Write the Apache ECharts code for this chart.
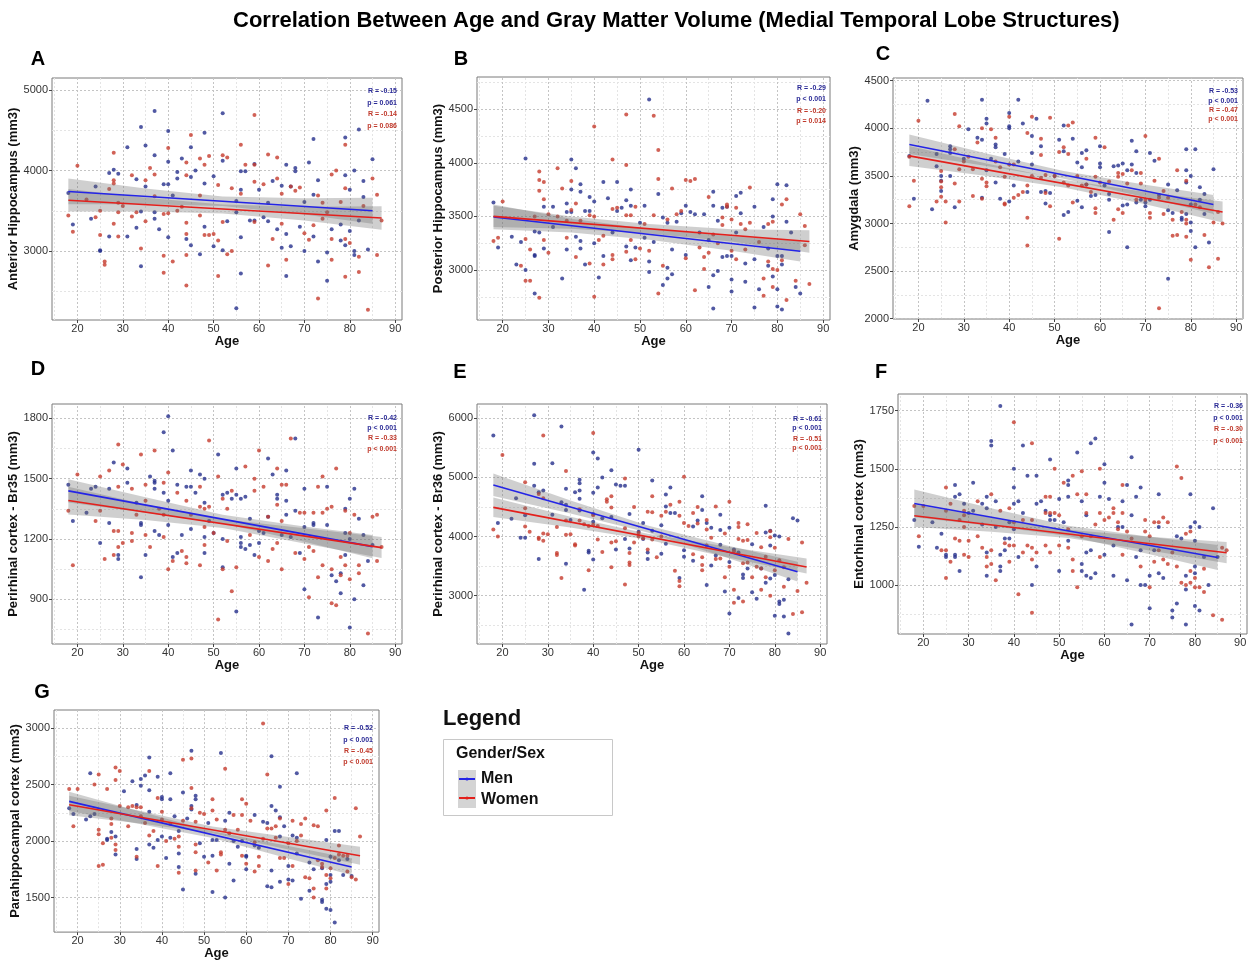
<!DOCTYPE html>
<html><head><meta charset="utf-8">
<script src="https://cdn.jsdelivr.net/npm/echarts@6/dist/echarts.min.js"></script>
<style>html,body{margin:0;padding:0;background:#fff}#c{width:1251px;height:961px}</style>
</head><body><div id="c"></div>
<script>
const ageTicks=[20,30,40,50,60,70,80,90];
const ageMinor=[15,25,35,45,55,65,75,85];
const FONT='Liberation Sans, Arial, sans-serif';

// ---------- A: Anterior Hippocampus ----------
const menA=[[18,3720],[19,3330],[23,3400],[24,3800],[25,3010],[25,3000],[27,3180],[27,3970],[28,4010],[29,3960],[31,4290],[31,3180],[33,3890],[33,3290],[34,4540],[34,3490],[34,2810],[35,4310],[35,3800],[37,4740],[37,4190],[37,3480],[37,3400],[38,3270],[39,3830],[40,4490],[40,4110],[40,3830],[40,3170],[41,3690],[42,3980],[42,3900],[43,4150],[44,3150],[45,4290],[45,3920],[45,3070],[46,4000],[47,2960],[48,4470],[48,3840],[48,3300],[50,3930],[50,3060],[52,4710],[52,4120],[52,3010],[53,3370],[55,3620],[55,3480],[55,2290],[56,3990],[56,3760],[56,3170],[56,2720],[57,3990],[58,3380],[59,4080],[59,3380],[60,3760],[61,3420],[62,3600],[62,3370],[63,3870],[64,3270],[65,3810],[65,3040],[66,4070],[66,3210],[66,2690],[67,3800],[67,3060],[68,4030],[68,3990],[69,3300],[70,3610],[70,3000],[71,4100],[72,4390],[72,3700],[72,3180],[73,3880],[73,2870],[75,2980],[75,2630],[76,3270],[78,3330],[78,3130],[79,4410],[79,3940],[79,3070],[80,3760],[80,3250],[81,3000],[81,2950],[81,4000],[82,4510],[82,3380],[83,3870],[83,3670],[84,3020],[85,4140]];
const womenA=[[18,3440],[19,3240],[20,4060],[22,3640],[24,3420],[25,3200],[25,3500],[26,2870],[26,2830],[27,3770],[28,4220],[28,3880],[28,3840],[28,3340],[29,3600],[29,3480],[29,3180],[30,3560],[32,3940],[32,3430],[33,3480],[34,3030],[35,3880],[35,3370],[36,4030],[37,3950],[37,3680],[39,3460],[39,2940],[39,2730],[40,4280],[40,3470],[41,2870],[42,3500],[43,3550],[44,4100],[44,3940],[44,3350],[44,3210],[44,2950],[44,2570],[45,4440],[47,4150],[47,3690],[47,3440],[48,4070],[48,3200],[49,4180],[49,3200],[50,3210],[51,3820],[51,3130],[51,2690],[52,4190],[52,3360],[53,4160],[53,2960],[54,3780],[54,3000],[56,4320],[56,3710],[57,4070],[59,4690],[59,4070],[59,3860],[59,3360],[61,3830],[62,4200],[62,2820],[63,3150],[64,4160],[64,3900],[65,3710],[65,3340],[66,2890],[67,3800],[68,3750],[69,3790],[70,3220],[71,3140],[72,3320],[73,3690],[73,2410],[74,3600],[74,3400],[75,3480],[76,3950],[76,3150],[76,2890],[77,4000],[78,3610],[79,4320],[79,3780],[79,3150],[79,2680],[80,3100],[82,2930],[82,2740],[83,3560],[84,2270],[85,3900],[86,3700],[86,2950],[87,3380]];
const fitMenA=[[18,3740],[85,3500]];
const fitWomenA=[[18,3630],[87,3410]];
const bandMenA=[[18,3580,3900],[35,3582,3776],[52,3558,3678],[70,3454,3654],[85,3340,3660]];
const bandWomenA=[[18,3490,3770],[35,3491,3661],[52,3467,3577],[70,3379,3549],[87,3265,3555]];
const yTicksA=[3000,4000,5000];
const yMinorA=[2500,3500,4500];
const statsA=['R = -0.15','p = 0.061','R = -0.14','p = 0.086'];

// ---------- B: Posterior Hippocampus ----------
const menB=[[18,3630],[19,3210],[22,3310],[23,3050],[24,3260],[25,4040],[25,3000],[27,3360],[27,3140],[27,3130],[27,2780],[28,3350],[29,3590],[29,3200],[31,3590],[31,3400],[33,2920],[34,3620],[34,3540],[34,3190],[35,4030],[35,3750],[35,3540],[36,3950],[36,3310],[37,3800],[37,3730],[37,3270],[37,3200],[38,3550],[38,3050],[39,3680],[39,3550],[40,3640],[40,3250],[41,2930],[42,3820],[42,3130],[43,3670],[44,3350],[45,3820],[45,3550],[46,3580],[47,3650],[47,3220],[48,3750],[48,3600],[48,3090],[49,3210],[50,3440],[51,3600],[51,3300],[52,4590],[52,3080],[52,2980],[53,3260],[54,3710],[55,3490],[55,2860],[56,3440],[56,3020],[56,2920],[57,3190],[57,2960],[58,3450],[59,3530],[60,3600],[60,3140],[61,3540],[62,3520],[63,3350],[64,3520],[65,3280],[65,2840],[66,3730],[66,3600],[66,2950],[66,2640],[67,3460],[67,2990],[68,3580],[68,3120],[69,3590],[69,3130],[70,3130],[70,2910],[70,2800],[71,3690],[71,3350],[72,3720],[72,3530],[73,3060],[73,2890],[75,3590],[75,3100],[75,2650],[76,2820],[77,3400],[78,3200],[78,3040],[79,3660],[79,3500],[79,2940],[80,3800],[80,3130],[80,2820],[80,2660],[81,3130],[81,3050],[81,2630],[82,3790],[82,3450],[83,3350],[84,2840],[85,2780]];
const womenB=[[18,3270],[19,3300],[20,3640],[24,3040],[25,3290],[25,2900],[26,3190],[26,2900],[27,3500],[28,3920],[28,3840],[28,3740],[28,2740],[29,3820],[29,3660],[29,3280],[30,3520],[30,3160],[32,3950],[32,3500],[33,3760],[34,3300],[34,3460],[35,3830],[35,3560],[36,3620],[36,3120],[37,3460],[39,3510],[39,3060],[40,4340],[40,3500],[40,2750],[41,3280],[42,3320],[42,3050],[44,4030],[44,3570],[44,3140],[44,3100],[45,3580],[47,4450],[47,3980],[47,3510],[47,3170],[48,3510],[48,3280],[49,3590],[49,3100],[50,3200],[51,3430],[52,3180],[53,4440],[53,3510],[54,4120],[54,3850],[54,2780],[55,3040],[56,3470],[57,3760],[58,3520],[59,3550],[60,3840],[60,3110],[61,3830],[62,3850],[62,2810],[63,3210],[64,3120],[64,3010],[65,3680],[65,3160],[66,3330],[67,3250],[68,3490],[68,3420],[69,3610],[69,3590],[70,3470],[70,3180],[71,3580],[71,3100],[72,3430],[73,3380],[73,3190],[74,3770],[74,3440],[76,3260],[77,2920],[77,2760],[78,3430],[78,3080],[79,3450],[79,3010],[79,2840],[80,3000],[81,3610],[81,3090],[82,3660],[82,2720],[84,2900],[85,3520],[86,3410],[86,3230],[87,2870]];
const fitMenB=[[18,3495],[85,3175]];
const fitWomenB=[[18,3500],[87,3265]];
const bandMenB=[[18,3380,3610],[35,3350,3478],[52,3283,3383],[70,3180,3314],[85,3080,3270]];
const bandWomenB=[[18,3400,3600],[35,3385,3500],[52,3340,3430],[70,3265,3380],[87,3160,3370]];
const yTicksB=[3000,3500,4000,4500];
const yMinorB=[2750,3250,3750,4250,4750];
const statsB=['R = -0.29','p < 0.001','R = -0.20','p = 0.014'];

// ---------- C: Amygdala ----------
const menC=[[18,3710],[19,3260],[22,4290],[23,3150],[24,3730],[24,3600],[25,3500],[25,3450],[25,3340],[27,3810],[27,3780],[27,3740],[27,3500],[28,3170],[30,3680],[31,3990],[33,3900],[34,4300],[34,3880],[34,3270],[35,4100],[35,4050],[35,3560],[36,3680],[37,3830],[37,3800],[37,3430],[38,3260],[39,3730],[40,4160],[40,4020],[40,4000],[40,3230],[41,3400],[42,4300],[42,3650],[43,4050],[44,3330],[45,3920],[45,3740],[45,3620],[46,4100],[47,3810],[47,3330],[48,3210],[48,3340],[49,3320],[50,3500],[51,3880],[52,4030],[52,3760],[52,3090],[53,3120],[54,3890],[55,3640],[55,3240],[56,3740],[56,3590],[56,3170],[57,3770],[57,3410],[58,3290],[59,3300],[60,3810],[60,3630],[60,3590],[61,3400],[62,3310],[62,3250],[62,2910],[63,3600],[64,3610],[65,3630],[65,3190],[66,3560],[66,3200],[66,2750],[67,3870],[67,3620],[68,3760],[68,3530],[68,3220],[69,3250],[70,3220],[70,3180],[71,3740],[71,3250],[72,3660],[73,3300],[75,3410],[75,3140],[75,2420],[76,3110],[77,3350],[78,3060],[78,3040],[79,3780],[79,3560],[79,3430],[79,3100],[80,3500],[80,3010],[80,2920],[80,3200],[81,3780],[81,2750],[82,3380],[82,3250],[83,3310],[83,3100],[84,2800],[85,3570]];
const womenC=[[18,3700],[18,3180],[19,3450],[20,4080],[24,3230],[25,3550],[25,3440],[25,3380],[25,3280],[26,3010],[26,3230],[28,4150],[28,3780],[28,3420],[29,4020],[29,3570],[29,3230],[30,3650],[31,3700],[32,3570],[32,3290],[33,3850],[34,4000],[34,3470],[34,3260],[35,3390],[35,3430],[36,3990],[37,3900],[37,3650],[38,3590],[39,3490],[39,3210],[39,3200],[40,4120],[40,3620],[41,3270],[41,3620],[42,3300],[43,3330],[44,3950],[44,3400],[44,3060],[44,2770],[45,4120],[45,3500],[47,3890],[47,3720],[47,3480],[48,3510],[48,3320],[49,4110],[49,3180],[50,3500],[51,3750],[51,2840],[52,3800],[52,3430],[53,4030],[53,3730],[53,3400],[54,4060],[54,3220],[55,3500],[56,3400],[57,3680],[57,3410],[58,3330],[59,3900],[59,3490],[59,3160],[59,3110],[60,3430],[61,3800],[62,3440],[63,3040],[64,3530],[64,3490],[64,3150],[65,3520],[65,3110],[66,3420],[67,3560],[68,3250],[69,3530],[69,3420],[70,3920],[70,3250],[71,3110],[71,3060],[72,3450],[73,3680],[73,3270],[73,2110],[74,3340],[74,3100],[75,3270],[76,3040],[76,2870],[77,3560],[77,2880],[78,3120],[79,3450],[79,3040],[79,3000],[79,2860],[80,2620],[81,3200],[82,3170],[83,2880],[84,2540],[85,3010],[86,3120],[86,2630],[87,3000]];
const fitMenC=[[18,3830],[85,3200]];
const fitWomenC=[[18,3710],[87,3120]];
const bandMenC=[[18,3730,3935],[35,3605,3735],[52,3470,3550],[70,3276,3406],[85,3100,3300]];
const bandWomenC=[[18,3605,3815],[35,3500,3630],[52,3379,3459],[70,3201,3331],[87,3010,3230]];
const yTicksC=[2000,2500,3000,3500,4000,4500];
const yMinorC=[2250,2750,3250,3750,4250];
const statsC=['R = -0.53','p < 0.001','R = -0.47','p < 0.001'];

// ---------- D: Perirhinal cortex Br35 ----------
const menD=[[18,1470],[19,1290],[22,1330],[23,1450],[24,1460],[25,1180],[27,1450],[27,1280],[28,1580],[29,1120],[29,1100],[31,1550],[31,1480],[33,1380],[34,1280],[34,1270],[34,1010],[35,1120],[36,1510],[37,1490],[37,1480],[37,1450],[37,1240],[38,1220],[39,1730],[39,1430],[40,1810],[40,1390],[40,1270],[41,1640],[41,1110],[42,1470],[42,1130],[43,1220],[44,1460],[45,1540],[45,1460],[45,1250],[46,1430],[47,1520],[48,1500],[48,1380],[48,1210],[48,1130],[49,1290],[50,1230],[51,1620],[52,1420],[52,1200],[52,1060],[53,1430],[54,1400],[55,1550],[55,1420],[55,840],[56,1400],[56,1210],[56,1180],[56,1160],[57,1410],[57,1150],[58,1300],[58,1170],[59,1120],[60,1240],[60,1180],[61,1230],[62,1600],[62,1310],[63,1520],[64,1420],[64,1400],[65,1220],[66,1540],[66,1390],[66,1320],[67,1210],[68,1700],[68,1340],[69,1130],[70,1450],[70,1260],[70,950],[72,1280],[72,1270],[73,810],[75,1460],[75,1270],[76,1020],[77,990],[78,1030],[78,930],[79,1350],[79,1230],[79,1120],[80,1400],[80,1200],[80,760],[81,1450],[81,900],[82,1300],[83,1220],[83,970],[84,1090],[85,1170]];
const womenD=[[18,1340],[19,1070],[20,1520],[24,1290],[25,1510],[25,1340],[26,1100],[27,1540],[28,1240],[28,1120],[29,1670],[29,1460],[29,1240],[29,1160],[30,1570],[30,1180],[32,1450],[32,1230],[32,1190],[33,1320],[34,1620],[35,1470],[35,1390],[35,1220],[36,1160],[37,1640],[38,1350],[39,1480],[39,1320],[39,1210],[40,1530],[40,1050],[41,1090],[42,1430],[43,1140],[44,1390],[44,1110],[44,1080],[45,1320],[47,1460],[47,1360],[47,1070],[48,1350],[48,1170],[48,1260],[49,1690],[49,1360],[50,1230],[51,1510],[51,800],[52,1400],[52,1050],[53,1350],[53,1190],[54,1440],[54,940],[55,1060],[57,1560],[58,1220],[59,1500],[59,1440],[60,1640],[60,1110],[61,1460],[62,1310],[62,1090],[63,1150],[64,1550],[64,1370],[64,1180],[65,1470],[65,1290],[65,1050],[66,1470],[67,1700],[68,1130],[69,1330],[70,1330],[70,1100],[71,1160],[71,910],[72,1330],[72,1140],[73,1460],[73,1010],[74,1510],[74,1330],[74,1070],[75,1350],[76,1360],[76,1050],[76,880],[77,1550],[77,870],[78,1110],[78,1020],[79,1340],[79,1070],[80,1230],[80,1000],[81,1320],[82,1070],[82,1030],[84,730],[85,1310],[86,1320],[86,1090],[87,1160]];
const fitMenD=[[18,1439],[85,1162]];
const fitWomenD=[[18,1391],[87,1157]];
const bandMenD=[[18,1381,1497],[35,1331,1407],[52,1277,1321],[70,1186,1262],[85,1104,1220]];
const bandWomenD=[[18,1322,1460],[35,1295,1371],[52,1254,1298],[70,1177,1253],[87,1105,1210]];
const yTicksD=[900,1200,1500,1800];
const yMinorD=[750,1050,1350,1650];
const statsD=['R = -0.42','p < 0.001','R = -0.33','p < 0.001'];

// ---------- E: Perirhinal cortex Br36 ----------
const menE=[[18,5710],[19,4230],[22,4300],[23,4650],[24,3980],[25,3980],[25,4360],[27,6050],[27,5230],[27,4860],[28,4750],[28,3620],[29,4780],[31,5240],[31,4370],[33,5860],[33,4580],[34,4810],[34,4540],[34,4450],[34,3540],[35,4280],[36,4750],[37,4960],[37,4900],[37,4780],[37,4640],[37,4440],[38,3100],[39,3760],[39,3730],[40,5420],[40,4740],[40,4380],[40,4250],[40,3610],[41,5320],[41,4830],[42,5000],[42,4310],[44,5120],[44,4330],[45,4880],[45,3780],[46,4860],[47,4860],[47,3960],[48,4380],[48,3800],[50,5470],[50,4080],[51,4230],[51,3960],[52,3730],[52,3620],[53,4950],[53,4100],[55,4190],[55,3710],[56,4710],[56,4510],[56,3880],[57,4830],[57,4400],[58,4400],[59,3300],[60,3770],[60,3660],[62,4170],[62,3590],[63,4270],[64,4680],[64,4450],[65,4230],[65,3180],[66,4150],[66,3510],[67,3680],[68,4370],[68,4110],[68,3860],[69,3070],[70,4150],[70,3570],[70,2700],[71,3780],[72,3730],[72,2960],[73,3360],[73,3300],[74,3460],[75,3870],[75,3060],[76,2950],[77,3460],[78,4520],[78,4070],[78,3220],[79,3850],[79,3290],[79,4100],[80,4020],[80,3350],[80,2660],[81,4000],[81,2900],[81,2860],[82,2930],[82,2650],[83,3280],[83,2360],[84,4310],[85,4270]];
const womenE=[[18,4120],[19,4000],[20,5380],[25,4920],[25,4480],[25,4170],[26,4080],[28,4720],[28,3980],[28,3960],[29,5710],[29,4650],[29,4050],[29,3930],[30,4040],[32,4160],[32,3720],[32,3690],[33,3300],[34,5110],[34,4270],[34,4030],[35,4040],[36,3870],[36,3850],[37,4460],[37,4270],[38,4210],[39,4180],[39,3430],[40,5750],[40,4360],[40,4200],[41,4180],[41,3950],[42,3740],[43,4630],[43,4590],[44,4680],[44,4490],[44,3900],[44,3480],[45,3920],[47,4980],[47,4140],[47,3190],[48,3720],[48,3560],[48,3520],[49,4500],[49,3900],[50,4060],[50,4000],[51,3970],[52,4420],[52,3780],[53,4680],[53,4410],[53,3950],[54,3650],[55,4350],[55,4000],[56,4420],[57,4540],[58,3420],[59,4590],[59,4350],[59,3250],[59,3160],[60,5010],[60,4230],[61,4180],[62,4400],[62,3700],[63,4500],[63,4220],[64,3650],[64,3520],[64,3430],[65,4280],[65,4120],[65,3850],[66,3980],[67,4510],[67,3620],[68,3630],[69,4050],[69,3310],[70,4590],[70,3490],[71,3750],[71,3100],[71,2880],[72,4230],[72,4160],[72,3960],[73,3930],[73,3550],[73,2900],[74,4210],[74,3940],[74,3560],[75,3310],[76,4060],[76,3490],[77,3820],[77,3460],[77,3100],[78,3660],[78,3310],[79,4090],[79,3990],[79,3000],[80,3810],[80,3430],[81,3600],[82,3480],[82,3150],[83,3960],[84,2690],[85,3080],[86,3900],[86,2720],[87,3220]];
const fitMenE=[[18,4872],[85,3406]];
const fitWomenE=[[18,4494],[87,3485]];
const bandMenE=[[18,4685,5065],[35,4390,4610],[52,4068,4188],[70,3629,3839],[85,3240,3575]];
const bandWomenE=[[18,4330,4660],[35,4155,4335],[52,3946,4046],[70,3643,3823],[87,3375,3630]];
const yTicksE=[3000,4000,5000,6000];
const yMinorE=[2500,3500,4500,5500];
const statsE=['R = -0.61','p < 0.001','R = -0.51','p < 0.001'];

// ---------- F: Entorhinal cortex ----------
const menF=[[18,1280],[19,1165],[22,1270],[23,1160],[24,1220],[25,1130],[25,1120],[27,1430],[27,1380],[27,1130],[27,1120],[28,1390],[28,1060],[29,1350],[30,1310],[31,1440],[31,1320],[33,1350],[33,1260],[34,1380],[34,1330],[34,1140],[34,1040],[35,1620],[35,1600],[36,1360],[36,1250],[37,1770],[37,1130],[37,1080],[37,1060],[38,1200],[38,1150],[39,1270],[39,1200],[40,1500],[40,1420],[40,1350],[40,1240],[41,1360],[41,1120],[42,1600],[42,1310],[43,1470],[44,1000],[45,1470],[45,1350],[45,1080],[46,1360],[47,1320],[48,1540],[48,1300],[48,1280],[49,1280],[50,1370],[50,1060],[51,1270],[52,1450],[52,1430],[52,1380],[52,1190],[54,1570],[55,1360],[55,1090],[55,1060],[56,1300],[56,1140],[56,1040],[57,1610],[57,1150],[57,1030],[58,1630],[58,1050],[59,1380],[60,1520],[60,1440],[60,1130],[61,1370],[62,1040],[62,1170],[63,1250],[64,1360],[64,1250],[65,1430],[65,1020],[66,1550],[66,1300],[66,830],[67,1380],[67,1120],[68,1420],[68,1150],[68,1000],[69,1000],[70,900],[70,1040],[71,1150],[72,1390],[72,1250],[72,1050],[73,1030],[75,890],[75,860],[76,1210],[76,920],[77,1200],[78,1040],[78,980],[78,830],[79,1390],[79,1250],[80,1270],[80,1190],[80,1080],[80,1050],[80,910],[81,1250],[81,890],[82,1120],[83,1000],[84,1330],[85,1120]];
const womenF=[[18,1340],[19,1210],[20,1340],[24,1150],[25,1420],[25,1320],[25,1150],[25,1030],[26,1350],[26,1100],[27,1200],[28,1280],[28,1190],[29,1320],[29,1300],[29,1250],[29,1130],[30,1190],[30,1120],[32,1360],[32,1210],[33,1160],[34,1120],[34,1080],[35,1390],[35,1150],[35,1090],[36,1020],[37,1320],[38,1180],[39,1330],[39,1170],[39,1100],[40,1700],[40,1270],[40,1170],[41,960],[42,1280],[42,1140],[43,1170],[44,1610],[44,1280],[44,1160],[44,1110],[44,880],[45,1140],[47,1380],[47,1310],[47,1170],[48,1380],[48,1310],[48,1140],[49,1500],[49,1310],[50,1300],[50,1170],[51,1440],[52,1240],[52,1160],[53,1470],[53,1110],[53,1060],[54,1390],[54,990],[55,1490],[55,1210],[56,1390],[56,1310],[57,1210],[58,1260],[59,1500],[59,1310],[59,1120],[60,1280],[61,1290],[62,1330],[62,1310],[63,1270],[63,1240],[64,1430],[64,1310],[64,1130],[65,1230],[66,1200],[68,1080],[69,1280],[69,1230],[70,990],[70,1210],[71,1270],[71,1100],[72,1270],[72,1150],[73,1290],[73,1110],[74,1270],[74,1090],[75,1140],[76,1510],[76,1080],[77,1460],[77,1010],[78,1220],[78,1000],[79,1230],[79,1060],[79,1010],[80,1030],[80,990],[81,990],[82,1070],[82,970],[84,870],[86,1160],[86,850],[87,1150]];
const fitMenF=[[18,1351],[85,1118]];
const fitWomenF=[[18,1298],[87,1139]];
const bandMenF=[[18,1291,1411],[35,1254,1330],[52,1211,1255],[70,1132,1208],[85,1065,1172]];
const bandWomenF=[[18,1250,1346],[35,1229,1289],[52,1202,1238],[70,1148,1208],[87,1093,1185]];
const yTicksF=[1000,1250,1500,1750];
const yMinorF=[875,1125,1375,1625];
const statsF=['R = -0.36','p < 0.001','R = -0.30','p < 0.001'];

// ---------- G: Parahippocampal cortex ----------
const menG=[[18,2290],[19,2240],[22,2190],[23,2600],[23,2220],[24,2240],[27,2020],[27,2010],[28,2080],[29,2040],[29,1880],[31,2440],[33,2530],[34,2320],[34,1930],[34,1840],[35,2550],[35,2490],[36,2580],[37,2740],[37,2450],[37,2260],[37,1970],[38,1940],[39,2570],[39,2010],[40,2390],[40,2370],[40,2040],[41,1850],[42,2600],[42,2370],[42,2030],[43,2220],[44,2090],[44,1890],[44,1770],[45,2430],[45,1570],[46,2200],[47,2800],[47,2310],[47,2280],[48,2400],[48,2370],[48,1710],[49,1980],[50,1860],[51,2160],[52,2010],[52,1870],[52,1550],[53,2010],[54,2780],[55,2180],[55,1500],[56,2250],[56,1800],[57,2000],[57,1650],[58,1950],[59,2000],[60,1870],[60,1860],[60,1750],[62,2230],[62,1960],[63,1940],[64,2170],[65,2160],[65,1600],[66,2750],[66,2310],[66,1740],[66,1590],[67,2270],[68,2480],[68,2210],[68,2040],[68,1640],[69,2130],[70,1780],[70,1660],[71,2050],[71,1650],[72,2600],[72,2030],[72,1890],[73,1490],[75,1810],[75,1560],[76,1750],[78,1760],[78,1480],[78,1460],[79,2010],[79,1620],[79,1400],[80,1700],[80,1640],[80,1390],[80,1860],[81,2090],[81,1280],[82,2090],[82,1830],[83,1700],[84,1840],[85,1690]];
const womenG=[[18,2460],[19,2130],[20,2460],[24,2500],[25,2590],[25,2100],[25,2060],[25,1780],[26,1980],[26,1790],[27,2460],[28,2200],[28,2150],[28,2030],[29,2650],[29,2540],[29,1970],[29,1920],[30,2620],[30,2310],[32,2300],[32,2130],[33,2310],[34,2300],[34,1860],[35,2300],[35,2220],[36,2160],[37,2620],[37,2050],[38,2090],[39,2380],[39,1780],[40,2260],[40,2190],[41,2000],[42,2150],[43,2020],[44,2040],[44,1950],[44,1720],[45,2720],[45,2180],[47,2730],[47,2470],[47,2290],[48,2170],[48,1970],[48,1900],[48,1740],[49,2250],[50,2240],[51,1810],[52,2370],[52,2270],[53,2190],[53,1740],[54,1900],[54,1880],[55,2640],[55,2100],[56,2070],[57,2230],[58,2100],[59,2370],[59,2230],[59,1870],[60,2330],[60,1800],[61,2180],[62,1990],[62,1730],[63,1860],[63,1780],[64,3040],[64,2020],[65,2590],[65,2110],[66,2110],[67,2130],[67,2030],[68,2200],[68,1850],[69,1850],[70,1980],[70,1620],[71,2180],[71,1780],[72,2000],[73,2150],[73,2050],[74,2200],[74,1680],[75,1670],[76,2140],[76,1580],[76,1500],[77,2130],[77,1830],[78,1800],[78,1770],[79,2270],[79,1700],[79,1580],[80,1760],[80,1670],[81,2380],[81,1850],[82,1960],[82,1880],[83,1870],[84,1870],[84,1730],[85,1680],[86,2290],[86,1660],[87,2040]];
const fitMenG=[[18,2351],[85,1771]];
const fitWomenG=[[18,2322],[87,1870]];
const bandMenG=[[18,2266,2436],[35,2149,2259],[52,2027,2087],[70,1846,1956],[85,1700,1845]];
const bandWomenG=[[18,2228,2400],[35,2156,2266],[52,2069,2129],[70,1926,2036],[87,1790,1950]];
const yTicksG=[1500,2000,2500,3000];
const yMinorG=[1750,2250,2750];
const statsG=['R = -0.52','p < 0.001','R = -0.45','p < 0.001'];

const yNames={A:'Anterior Hippocampus (mm3)',B:'Posterior Hippocampus (mm3)',C:'Amygdala (mm3)',D:'Perirhinal cortex - Br35 (mm3)',E:'Perirhinal cortex - Br36 (mm3)',F:'Entorhinal cortex (mm3)',G:'Parahippocampal cortex (mm3)'};
const titleText='Correlation Between Age and Gray Matter Volume (Medial Temporal Lobe Structures)';

// ---------- layout (positions only) ----------
const layout={
 A:{left:52,top:78,width:350,height:242,ymin:2143,ymax:5149,letter:[38,59],stats:[397,91,103,114,126],ng:28},
 B:{left:477,top:77,width:353,height:243,ymin:2533,ymax:4801,letter:[461,59],stats:[826,88,99,111,121],ng:28},
 C:{left:893,top:78,width:350,height:241,ymin:1997,ymax:4528,letter:[883,54],stats:[1238,91,101,110,119],ng:28},
 D:{left:52,top:404,width:350,height:240,ymin:678,ymax:1871,letter:[38,369],stats:[397,418,428,438,449],ng:28},
 E:{left:477,top:404,width:350,height:240,ymin:2183,ymax:6242,letter:[460,372],stats:[822,419,428,439,448],ng:28},
 F:{left:898,top:394,width:349,height:240,ymin:789,ymax:1822,letter:[881,372],stats:[1243,406,418,429,441],ng:29},
 G:{left:54,top:710,width:325,height:225,ymin:1194,ymax:3160,letter:[42,692],stats:[373,728,740,751,762],ng:25}
};
const panels=[
 {k:'A',men:menA,women:womenA,fm:fitMenA,fw:fitWomenA,bm:bandMenA,bw:bandWomenA,yt:yTicksA,ym:yMinorA,st:statsA},
 {k:'B',men:menB,women:womenB,fm:fitMenB,fw:fitWomenB,bm:bandMenB,bw:bandWomenB,yt:yTicksB,ym:yMinorB,st:statsB},
 {k:'C',men:menC,women:womenC,fm:fitMenC,fw:fitWomenC,bm:bandMenC,bw:bandWomenC,yt:yTicksC,ym:yMinorC,st:statsC},
 {k:'D',men:menD,women:womenD,fm:fitMenD,fw:fitWomenD,bm:bandMenD,bw:bandWomenD,yt:yTicksD,ym:yMinorD,st:statsD},
 {k:'E',men:menE,women:womenE,fm:fitMenE,fw:fitWomenE,bm:bandMenE,bw:bandWomenE,yt:yTicksE,ym:yMinorE,st:statsE},
 {k:'F',men:menF,women:womenF,fm:fitMenF,fw:fitWomenF,bm:bandMenF,bw:bandWomenF,yt:yTicksF,ym:yMinorF,st:statsF},
 {k:'G',men:menG,women:womenG,fm:fitMenG,fw:fitWomenG,bm:bandMenG,bw:bandWomenG,yt:yTicksG,ym:yMinorG,st:statsG}
];

const C_MEN_PT='#26308c', C_WOMEN_PT='#c63b2d', C_MEN_LN='#2424e6', C_WOMEN_LN='#e3201c';
const C_MEN_TX='#2a2a96', C_WOMEN_TX='#c0392b';
const BAND_FILL='rgba(110,110,110,0.33)';
const plain=v=>String(v);

const grids=[],xAxes=[],yAxes=[],series=[],graphics=[];
function bandSeries(band,gi){
  return {type:'custom',xAxisIndex:gi,yAxisIndex:gi,z:3,silent:true,animation:false,clip:true,
    data:[[band[0][0],band[0][1]]],
    renderItem:function(params,api){
      const pts=[];
      for(let i=0;i<band.length;i++) pts.push(api.coord([band[i][0],band[i][2]]));
      for(let i=band.length-1;i>=0;i--) pts.push(api.coord([band[i][0],band[i][1]]));
      return {type:'polygon',shape:{points:pts},style:{fill:BAND_FILL}};
    }};
}
panels.forEach((p,gi)=>{
  const L=layout[p.k];
  grids.push({left:L.left,top:L.top,width:L.width,height:L.height,show:true,borderColor:'#7a7a7a',borderWidth:1,backgroundColor:'#fff'});
  xAxes.push({type:'value',gridIndex:gi,min:14.4,max:91.5,
    name:'Age',nameLocation:'middle',nameGap:14,
    nameTextStyle:{fontFamily:FONT,fontWeight:'bold',fontSize:13,color:'#111'},
    axisLine:{show:false},splitLine:{show:false},
    axisTick:{show:true,length:3,customValues:ageTicks,lineStyle:{color:'#444'}},
    axisLabel:{customValues:ageTicks,margin:3,fontFamily:FONT,fontSize:11,color:'#333',formatter:plain}});
  yAxes.push({type:'value',gridIndex:gi,min:L.ymin,max:L.ymax,
    name:yNames[p.k],nameLocation:'middle',nameGap:L.ng,
    nameTextStyle:{fontFamily:FONT,fontWeight:'bold',fontSize:13,color:'#111'},
    axisLine:{show:false},splitLine:{show:false},
    axisTick:{show:true,length:3,customValues:p.yt,lineStyle:{color:'#444'}},
    axisLabel:{customValues:p.yt,margin:4,fontFamily:FONT,fontSize:11,color:'#333',formatter:plain}});
  const maj={color:'#c4c4c4',type:[2,2],width:1}, mn={color:'#e4e4e4',type:[2,2],width:1};
  const ml=[];
  ageMinor.forEach(v=>ml.push({xAxis:v,lineStyle:mn}));
  p.ym.forEach(v=>ml.push({yAxis:v,lineStyle:mn}));
  ageTicks.forEach(v=>ml.push({xAxis:v,lineStyle:maj}));
  p.yt.forEach(v=>ml.push({yAxis:v,lineStyle:maj}));
  series.push({type:'line',xAxisIndex:gi,yAxisIndex:gi,data:[[p.fm[0][0],p.fm[0][1]]],symbol:'none',lineStyle:{opacity:0},z:1,silent:true,animation:false,
    markLine:{silent:true,symbol:['none','none'],label:{show:false},animation:false,z:1,data:ml}});
  series.push({type:'scatter',name:'Men',xAxisIndex:gi,yAxisIndex:gi,data:p.men,symbolSize:4,itemStyle:{color:C_MEN_PT},z:2,silent:true,animation:false});
  series.push({type:'scatter',name:'Women',xAxisIndex:gi,yAxisIndex:gi,data:p.women,symbolSize:4,itemStyle:{color:C_WOMEN_PT},z:2,silent:true,animation:false});
  series.push(bandSeries(p.bm,gi));
  series.push(bandSeries(p.bw,gi));
  series.push({type:'line',xAxisIndex:gi,yAxisIndex:gi,data:p.fm,symbol:'none',lineStyle:{color:C_MEN_LN,width:1.6},z:4,silent:true,animation:false});
  series.push({type:'line',xAxisIndex:gi,yAxisIndex:gi,data:p.fw,symbol:'none',lineStyle:{color:C_WOMEN_LN,width:1.6},z:4,silent:true,animation:false});
  graphics.push({type:'text',x:L.letter[0],y:L.letter[1],style:{text:p.k,fontFamily:FONT,fontWeight:'bold',fontSize:20,fill:'#000',textAlign:'center',textVerticalAlign:'middle'}});
  p.st.forEach((s,i)=>{
    graphics.push({type:'text',x:L.stats[0],y:L.stats[i+1],z:10,style:{text:s,fontFamily:FONT,fontWeight:'bold',fontSize:7,fill:i<2?C_MEN_TX:C_WOMEN_TX,textAlign:'right',textVerticalAlign:'middle'}});
  });
});

// Legend (drawn box)
graphics.push({type:'text',x:443,y:719,style:{text:'Legend',fontFamily:FONT,fontWeight:'bold',fontSize:22,fill:'#111',textVerticalAlign:'middle'}});
graphics.push({type:'rect',shape:{x:443.5,y:739.5,width:169,height:76},style:{fill:'#fff',stroke:'#c8c8c8',lineWidth:1}});
graphics.push({type:'text',x:456,y:754,style:{text:'Gender/Sex',fontFamily:FONT,fontWeight:'bold',fontSize:16,fill:'#111',textVerticalAlign:'middle'}});
const legendItems=[['Men',C_MEN_LN,779],['Women',C_WOMEN_LN,798]];
legendItems.forEach((it,i)=>{
  graphics.push({type:'rect',shape:{x:458,y:770+i*19,width:18,height:19},style:{fill:'#d4d4d4'}});
  graphics.push({type:'line',shape:{x1:459,y1:it[2],x2:475,y2:it[2]},style:{stroke:it[1],lineWidth:2}});
  graphics.push({type:'circle',shape:{cx:467,cy:it[2],r:1.6},style:{fill:it[1]}});
  graphics.push({type:'text',x:481,y:it[2]+(i?2:0),style:{text:it[0],fontFamily:FONT,fontWeight:'bold',fontSize:16,fill:'#111',textVerticalAlign:'middle'}});
});

const chart=echarts.init(document.getElementById('c'),null,{renderer:'canvas'});
chart.setOption({
  backgroundColor:'#fff',animation:false,
  title:{text:titleText,left:228,top:5,textStyle:{fontFamily:FONT,fontWeight:'bold',fontSize:22,color:'#000'}},
  grid:grids,xAxis:xAxes,yAxis:yAxes,series:series,graphic:graphics
});
</script></body></html>
